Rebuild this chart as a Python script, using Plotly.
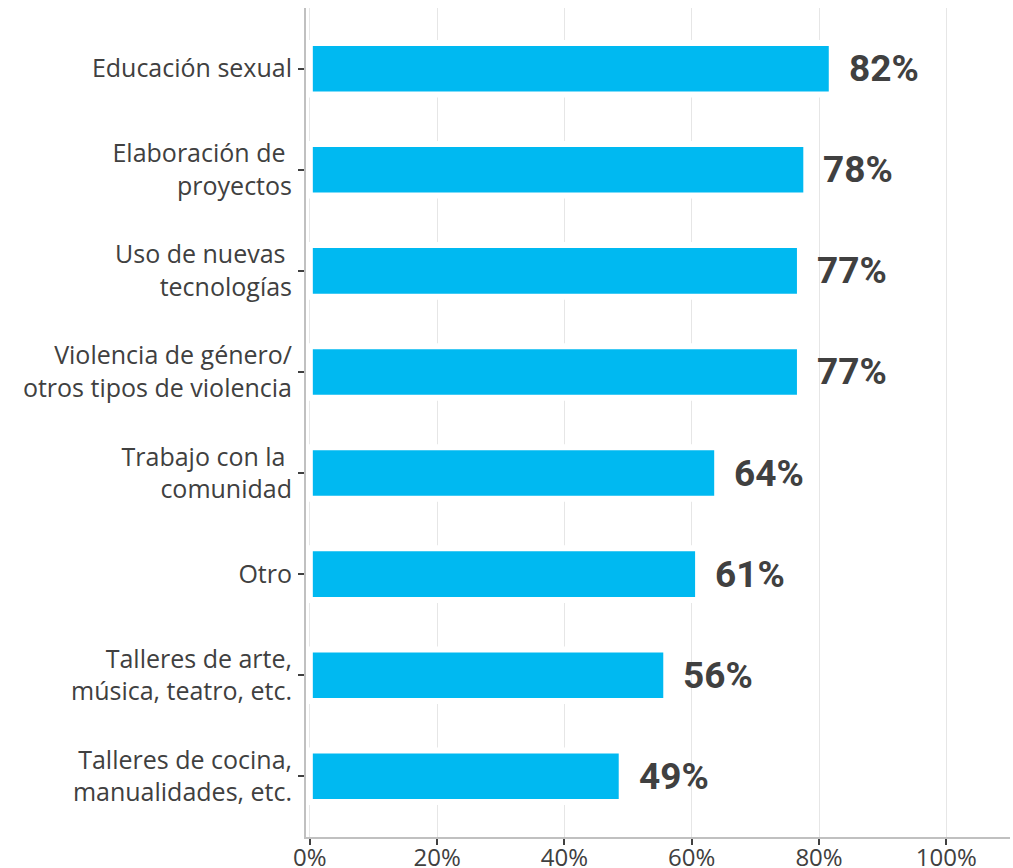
import plotly.graph_objects as go

categories = [
    "Educación sexual",
    "Elaboración de <br>proyectos",
    "Uso de nuevas <br>tecnologías",
    "Violencia de género/<br>otros tipos de violencia",
    "Trabajo con la <br>comunidad",
    "Otro",
    "Talleres de arte,<br>música, teatro, etc.",
    "Talleres de cocina,<br>manualidades, etc.",
]
values = [82, 78, 77, 77, 64, 61, 56, 49]
value_labels = ["82%", "78%", "77%", "77%", "64%", "61%", "56%", "49%"]
tick_vals = [0, 20, 40, 60, 80, 100]
tick_text = ["0%", "20%", "40%", "60%", "80%", "100%"]

fig = go.Figure()
fig.add_trace(go.Bar(
    x=values, y=categories, orientation="h",
    marker=dict(color="#00B9F1", line=dict(color="white", width=6)),
    width=0.51, hoverinfo="skip",
))
for c, v, t in zip(categories, values, value_labels):
    fig.add_annotation(
        x=v, y=c, text=t, showarrow=False, xanchor="left", yanchor="middle",
        xshift=15, yshift=0,
        font=dict(family="Roboto, sans-serif", size=37, color="#404040", weight="bold"),
    )

fig.update_layout(
    width=1013, height=868,
    margin=dict(l=306, r=3, t=8, b=31),
    paper_bgcolor="white", plot_bgcolor="white",
    showlegend=False,
    font=dict(family="Open Sans, sans-serif", color="#404040"),
)
fig.update_xaxes(
    automargin=False,
    range=[-0.6, 110], tickvals=tick_vals, ticktext=tick_text,
    showgrid=True, gridcolor="#e6e6e6", gridwidth=1,
    showline=True, linecolor="#c0c0c0", linewidth=2,
    ticks="outside", ticklen=6, tickwidth=2, tickcolor="#404040",
    ticklabelstandoff=-8,
    tickfont=dict(size=24, color="#404040"), zeroline=False,
)
fig.update_yaxes(
    automargin=False,
    autorange=False, range=[7.6, -0.6],
    showline=True, linecolor="#c0c0c0", linewidth=2,
    ticks="outside", ticklen=6, tickwidth=2, tickcolor="#404040",
    ticklabelstandoff=1,
    tickfont=dict(size=25, color="#404040"), showgrid=False,
)
fig.write_html("out.html", config={"displayModeBar": False},
               post_script="document.body.style.margin='0';document.body.style.overflow='hidden';")
